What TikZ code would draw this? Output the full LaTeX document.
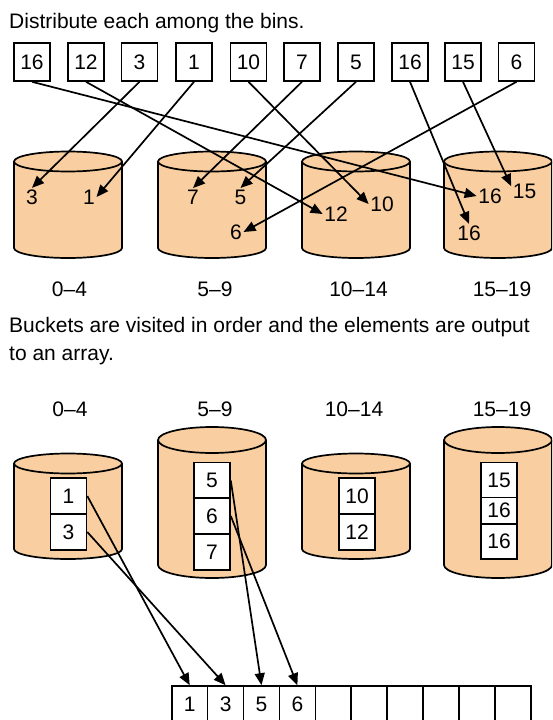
\documentclass[tikz,border=0pt]{standalone}
\usepackage{fontspec}
\setmainfont{Liberation Sans}
\usetikzlibrary{arrows.meta}
\definecolor{binpeach}{RGB}{249,206,160}
\tikzset{cell/.style={draw, line width=1.6pt, fill=white, minimum width=36pt, minimum height=36pt, inner sep=0pt},
         val/.style={inner sep=1.5pt},
         put/.style={line width=1.7pt, -{Triangle[length=12pt,width=10pt]}},
         binline/.style={line width=1.7pt, draw=black, fill=binpeach}}
% centre x, top y, bottom y, y radius of the rims
\newcommand{\drawbin}[4]{%
  \filldraw[binline] ({#1-54},#2) -- ({#1-54},#3)
     arc[start angle=180,end angle=360,x radius=54pt,y radius=#4pt] -- ({#1+54},#2);
  \filldraw[binline] (#1,#2) ellipse[x radius=54pt,y radius=#4pt];}

\begin{document}
\begin{tikzpicture}[x=1pt, y=-1pt, font=\fontsize{21}{28}\selectfont]
  \useasboundingbox (0,0) rectangle (552,720);
  \clip (0,0) rectangle (552,720);

  % ---------- step 1: scatter ----------
  \node[anchor=base west, inner sep=0pt] (head1) at (9,28) {Distribute each among the bins.};

  \node[cell, minimum height=38pt] (s1)  at (32,62)    {16};
  \node[cell, minimum height=38pt] (s2)  at (86,62)    {12};
  \node[cell, minimum height=38pt] (s3)  at (139.5,62) {3};
  \node[cell, minimum height=38pt] (s4)  at (194,62)   {1};
  \node[cell, minimum height=38pt] (s5)  at (248.5,62) {10};
  \node[cell, minimum height=38pt] (s6)  at (302,62)   {7};
  \node[cell, minimum height=38pt] (s7)  at (356,62)   {5};
  \node[cell, minimum height=38pt] (s8)  at (410,62)   {16};
  \node[cell, minimum height=38pt] (s9)  at (463,62)   {15};
  \node[cell, minimum height=38pt] (s10) at (516.5,62) {6};

  \drawbin{68}{161.5}{248}{10}
  \drawbin{212}{161.5}{248}{10}
  \drawbin{356}{161.5}{248}{10}
  \drawbin{498}{161.5}{248}{10}

  \node[val] (t3)   at (32,197)    {3};
  \node[val] (t1)   at (89,197)    {1};
  \node[val] (t7)   at (193,197)   {7};
  \node[val] (t5)   at (240.5,197) {5};
  \node[val] (t6)   at (236,232)   {6};
  \node[val] (t12)  at (336,214)   {12};
  \node[val] (t10)  at (382,204)   {10};
  \node[val] (t16a) at (490,196)   {16};
  \node[val] (t15)  at (524.5,191) {15};
  \node[val] (t16b) at (469,233)   {16};

  \draw[put] (s1.south)  -- (t16a.west);
  \draw[put] (s2.south)  -- (t12.west);
  \draw[put] (s3.south)  -- (t3.north);
  \draw[put] (s4.south)  -- (t1.east);
  \draw[put] (s5.south)  -- (t10.west);
  \draw[put] (s6.south)  -- (t7.north);
  \draw[put] (s7.south)  -- (t5.north);
  \draw[put] (s8.south)  -- (t16b.north);
  \draw[put] (s9.south)  -- (t15.160);
  \draw[put] (s10.south) -- (t6.east);

  \node (r1) at (69.5,289)  {0–4};
  \node (r2) at (215,289)   {5–9};
  \node (r3) at (358.5,289) {10–14};
  \node (r4) at (502,289)   {15–19};

  % ---------- step 2: gather ----------
  % base of a two-line node is the baseline of its last line
  \node[anchor=base west, align=left, inner sep=0pt] (head2) at (9,360)
       {Buckets are visited in order and the elements are output\\to an array.};

  \node (q1) at (70,409)  {0–4};
  \node (q2) at (215,409) {5–9};
  \node (q3) at (354,409) {10–14};
  \node (q4) at (502,409) {15–19};

  \drawbin{68}{463.5}{549}{10}
  \drawbin{212}{440}{565}{13}
  \drawbin{356}{463.5}{549}{10}
  \drawbin{498}{440}{565}{13}

  \node[cell] (k1)  at (68.5,496)  {1};
  \node[cell] (k3)  at (68.5,532)  {3};
  \node[cell] (k5)  at (212,480.5) {5};
  \node[cell] (k6)  at (212,516)   {6};
  \node[cell] (k7)  at (212,552)   {7};
  \node[cell] (k10) at (357,496)   {10};
  \node[cell] (k12) at (357,532)   {12};
  \node[cell, minimum height=35pt]   (k15)  at (499,480)   {15};
  \node[cell, minimum height=26.7pt] (k16a) at (499,510.7) {16};
  \node[cell, minimum height=35pt]   (k16b) at (499,541.7) {16};

  % ---------- output array ----------
  \node[cell] (a1)  at (189.7,704) {1};
  \node[cell] (a2)  at (225.6,704) {3};
  \node[cell] (a3)  at (261.5,704) {5};
  \node[cell] (a4)  at (297.4,704) {6};
  \node[cell] (a5)  at (333.3,704) {};
  \node[cell] (a6)  at (369.2,704) {};
  \node[cell] (a7)  at (405.1,704) {};
  \node[cell] (a8)  at (441.0,704) {};
  \node[cell] (a9)  at (476.9,704) {};
  \node[cell] (a10) at (512.8,704) {};

  \draw[put] (k1.east) -- (a1.north);
  \draw[put] (k3.east) -- (a2.north);
  \draw[put] (k5.east) -- (a3.north);
  \draw[put] (k6.east) -- (a4.north);

\end{tikzpicture}
\end{document}
